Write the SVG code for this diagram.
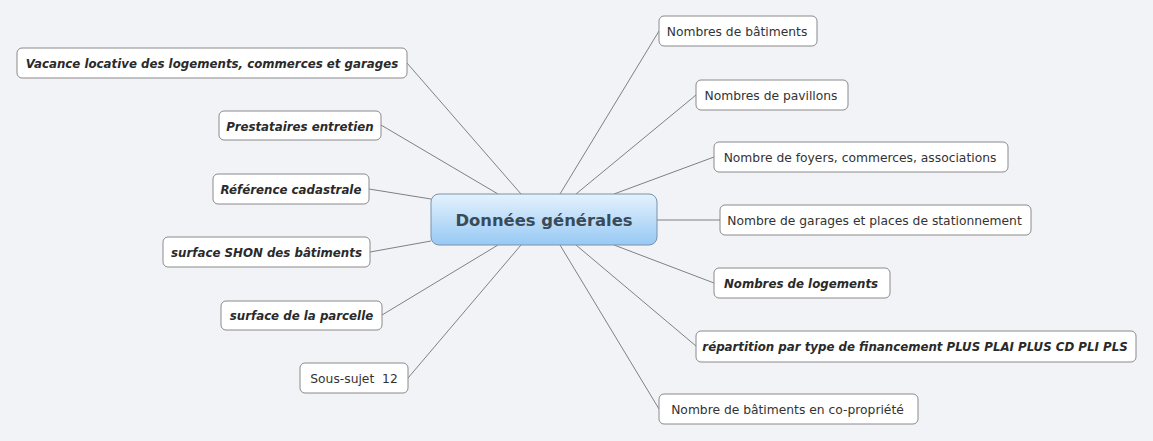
<svg xmlns="http://www.w3.org/2000/svg" width="1153" height="441" viewBox="0 0 1153 441">
<defs>
<linearGradient id="cg" x1="0" y1="0" x2="0" y2="1">
<stop offset="0" stop-color="#e4f2fd"/>
<stop offset="1" stop-color="#97c9f4"/>
</linearGradient>
</defs>
<style>
.bg{fill:#f2f3f7}
.box{fill:#ffffff;stroke:#8a8a8a;stroke-width:1}
.t{font-family:"DejaVu Sans",Verdana,sans-serif;font-size:12.3px;fill:#333333;text-anchor:middle}
.bi{font-weight:bold;font-style:italic;font-size:11.8px;fill:#2a2a2a}
.c{stroke:#808080;stroke-width:1;fill:none}
.central{fill:url(#cg);stroke:#7a92ab;stroke-width:1}
.ct{font-family:"DejaVu Sans",Verdana,sans-serif;font-size:16.4px;font-weight:bold;fill:#3b4a58;text-anchor:middle}
</style>
<rect class="bg" x="0" y="0" width="1153" height="441"/>
<g id="connectors">
<line class="c" x1="407" y1="63" x2="521" y2="194"/>
<line class="c" x1="381" y1="125" x2="498" y2="194"/>
<line class="c" x1="369" y1="189" x2="431" y2="199"/>
<line class="c" x1="370" y1="252" x2="431" y2="241"/>
<line class="c" x1="382" y1="315" x2="498" y2="245"/>
<line class="c" x1="408" y1="378" x2="521" y2="245"/>
<line class="c" x1="659" y1="31" x2="560" y2="194"/>
<line class="c" x1="696" y1="95" x2="576" y2="194"/>
<line class="c" x1="714" y1="157" x2="614" y2="194"/>
<line class="c" x1="720" y1="220" x2="657" y2="220"/>
<line class="c" x1="714" y1="283" x2="614" y2="245"/>
<line class="c" x1="696" y1="346" x2="576" y2="245"/>
<line class="c" x1="659" y1="409" x2="560" y2="245"/>
</g>
<g id="central">
<rect class="central" x="431" y="194" width="226" height="51" rx="8"/>
<text class="ct" x="544" y="226">Données générales</text>
</g>
<g id="n-vacance">
<rect class="box" x="17" y="48" width="390" height="30" rx="5"/>
<text class="t bi" x="212" y="68">Vacance locative des logements, commerces et garages</text>
</g>
<g id="n-prestataires">
<rect class="box" x="219" y="111" width="162" height="29" rx="5"/>
<text class="t bi" x="300" y="131">Prestataires entretien</text>
</g>
<g id="n-reference">
<rect class="box" x="213" y="174" width="156" height="30" rx="5"/>
<text class="t bi" x="291" y="194">Référence cadastrale</text>
</g>
<g id="n-shon">
<rect class="box" x="163" y="237" width="207" height="30" rx="5"/>
<text class="t bi" x="266.5" y="257">surface SHON des bâtiments</text>
</g>
<g id="n-parcelle">
<rect class="box" x="221" y="301" width="161" height="29" rx="5"/>
<text class="t bi" x="301.5" y="320">surface de la parcelle</text>
</g>
<g id="n-soussujet">
<rect class="box" x="300" y="363" width="108" height="30" rx="5"/>
<text class="t" x="354" y="383">Sous-sujet&#160; 12</text>
</g>
<g id="n-batiments">
<rect class="box" x="659" y="16" width="158" height="30" rx="5"/>
<text class="t" x="737" y="36">Nombres de bâtiments</text>
</g>
<g id="n-pavillons">
<rect class="box" x="696" y="80" width="152" height="30" rx="5"/>
<text class="t" x="771" y="100">Nombres de pavillons</text>
</g>
<g id="n-foyers">
<rect class="box" x="714" y="142" width="294" height="30" rx="5"/>
<text class="t" x="860" y="162">Nombre de foyers, commerces, associations</text>
</g>
<g id="n-garages">
<rect class="box" x="720" y="205" width="311" height="30" rx="5"/>
<text class="t" x="874.5" y="225">Nombre de garages et places de stationnement</text>
</g>
<g id="n-logements">
<rect class="box" x="714" y="268" width="176" height="30" rx="5"/>
<text class="t bi" x="801" y="288">Nombres de logements</text>
</g>
<g id="n-repartition">
<rect class="box" x="696" y="331" width="440" height="31" rx="5"/>
<text class="t bi" x="915" y="351">répartition par type de financement PLUS PLAI PLUS CD PLI PLS</text>
</g>
<g id="n-copropriete">
<rect class="box" x="659" y="394" width="259" height="30" rx="5"/>
<text class="t" x="787.5" y="414">Nombre de bâtiments en co-propriété</text>
</g>
</svg>
